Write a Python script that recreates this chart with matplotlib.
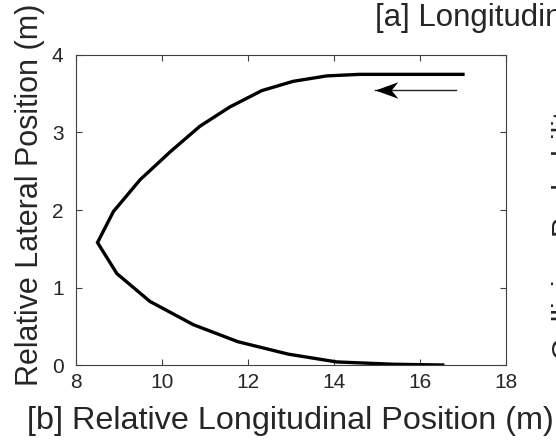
import matplotlib
matplotlib.use("Agg")
import matplotlib.pyplot as plt
from matplotlib.path import Path

plt.rcParams['font.family'] = ['Liberation Sans', 'DejaVu Sans']

# trajectory (m)
long_pos = [17.0, 16.0, 15.0, 14.6, 13.83, 13.05, 12.32, 11.58, 10.88, 10.19,
            9.49, 8.87, 8.50, 8.95, 9.72, 10.73, 11.77, 12.94, 14.06, 15.38,
            16.53]
lat_pos = [3.75, 3.75, 3.75, 3.75, 3.73, 3.66, 3.54, 3.33, 3.08, 2.75,
           2.39, 1.98, 1.58, 1.18, 0.82, 0.52, 0.30, 0.14, 0.04, 0.01,
           0.0]

# direction arrow (tail -> head)
arrow_tail = (16.84, 3.55)
arrow_head = (14.95, 3.55)

xticks = [8, 10, 12, 14, 16, 18]
yticks = [0, 1, 2, 3, 4]

fig = plt.figure(figsize=(5.56, 4.47), dpi=100)
ax = fig.add_axes([0.1367, 0.1834, 0.7733, 0.6936])

ax.plot(long_pos, lat_pos, color='black', lw=2.4, solid_joinstyle='miter')

# arrow shaft + notched head (matlab vback2-ish)
ax.plot([arrow_tail[0], arrow_head[0]], [arrow_tail[1], arrow_head[1]],
        color='#222222', lw=1.0)
head = Path([(0, 0), (1, 0.36), (0.7, 0), (1, -0.36), (0, 0)],
            [Path.MOVETO, Path.LINETO, Path.LINETO, Path.LINETO, Path.CLOSEPOLY])
ax.plot([arrow_head[0]], [arrow_head[1]], marker=head, markersize=33,
        color='black', markeredgewidth=0, linestyle='none')

ax.set_xlim(8, 18)
ax.set_ylim(0, 4)
ax.set_xticks(xticks)
ax.set_yticks(yticks)
ax.tick_params(direction='in', length=4, width=0.8, color='#404040',
               labelsize=15, labelcolor='#262626', top=True, right=True)
ax.tick_params(axis='y', pad=9)
ax.tick_params(axis='x', pad=6)
for sp in ax.spines.values():
    sp.set_color('#404040')
    sp.set_linewidth(0.8)

fig.text(30 / 556, 1 - 195 / 447, 'Relative Lateral Position (m)', rotation=90,
         ha='center', va='center', fontsize=22, color='#262626')
fig.text(290 / 556, 1 - 421 / 447, '[b] Relative Longitudinal Position (m)',
         ha='center', va='center', fontsize=23.3, color='#262626')
# bits of the neighbouring panels that were cropped into the image
fig.text(375 / 556, 1 - 26 / 447, '[a] Longitudinal Position (m)',
         ha='left', va='baseline', fontsize=22.5, color='#262626')
fig.text(552 / 556, 1 - 360 / 447, 'Collision Probability', rotation=90,
         ha='left', va='bottom', fontsize=22, color='#262626')

fig.savefig('out.png', dpi=100)
